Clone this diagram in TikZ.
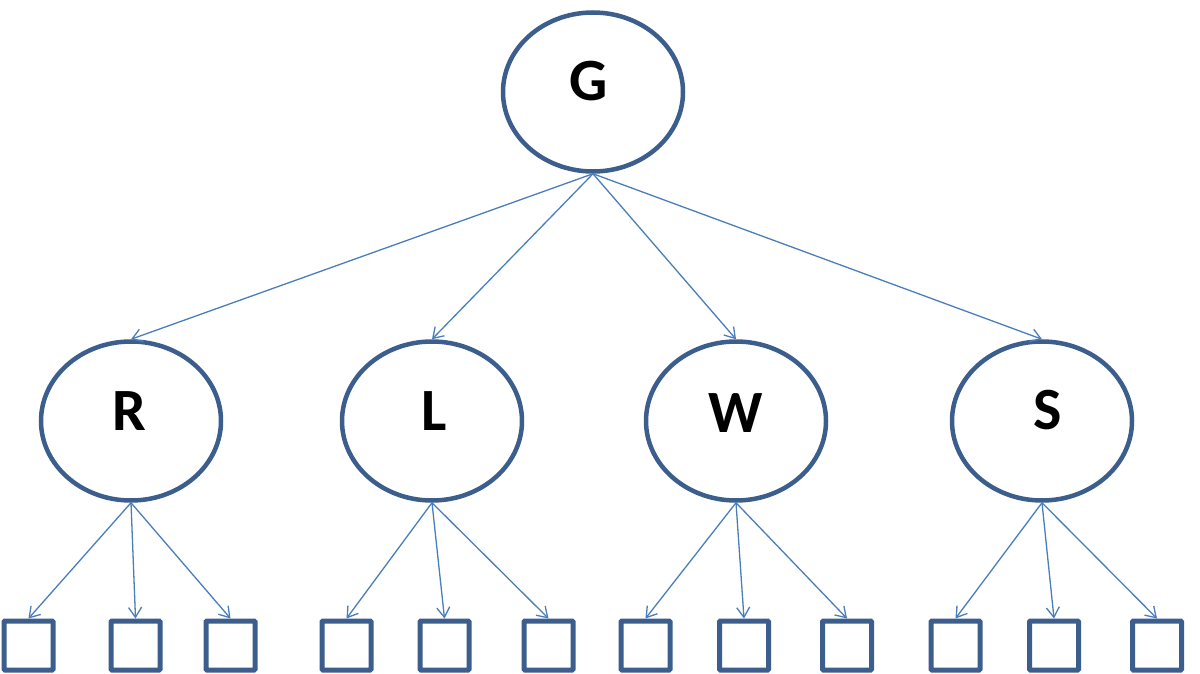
\documentclass[tikz,border=0pt]{standalone}
\usepackage{fontspec}
\setmainfont{Carlito}
\usetikzlibrary{shapes.geometric,arrows.meta,calc}
\definecolor{bord}{HTML}{3B5E8D}
\definecolor{arr}{HTML}{4A7EBB}
\tikzset{
  ell/.style={draw=bord, line width=4.5pt, ellipse, inner sep=0pt, minimum width=180pt, minimum height=159pt},
  sq/.style={draw=bord, line width=5pt, rectangle, rounded corners=1pt, inner sep=0pt, minimum width=49pt, minimum height=49pt},
  lbl/.style={font=\fontsize{60}{62}\selectfont\bfseries, text=black, inner sep=0pt},
  con/.style={draw=arr, line width=1.3pt, -{Straight Barb[length=10pt,width=13pt,line width=1.3pt]}}
}
\begin{document}
\begin{tikzpicture}[x=1pt,y=-1pt]
\useasboundingbox (0,0) rectangle (1200,674);
\node[ell] (G) at (593,92) {};
\node[ell] (R) at (131,421) {};
\node[ell] (L) at (432,421) {};
\node[ell] (W) at (736,421) {};
\node[ell] (S) at (1042,421) {};
\node[lbl] (Gt) at (589,81) {G};
\node[lbl] (Rt) at (129,411) {R};
\node[lbl] (Lt) at (434,411) {L};
\node[lbl] (Wt) at (736,413) {W};
\node[lbl] (St) at (1048,410) {S};
\foreach \n/\x in {r1/28.5,r2/135.5,r3/230.5,l1/346.5,l2/444.5,l3/548.5,w1/645.5,w2/744,w3/847,s1/955.5,s2/1054,s3/1157}{
  \node[sq] (\n) at (\x,645.5) {};
}
\foreach \c in {R,L,W,S}{ \draw[con] (G.south) -- (\c.north); }
\foreach \p/\a/\b/\c in {R/r1/r2/r3,L/l1/l2/l3,W/w1/w2/w3,S/s1/s2/s3}{
  \draw[con] (\p.south) -- (\a.north);
  \draw[con] (\p.south) -- (\b.north);
  \draw[con] (\p.south) -- (\c.north);
}
\end{tikzpicture}
\end{document}
